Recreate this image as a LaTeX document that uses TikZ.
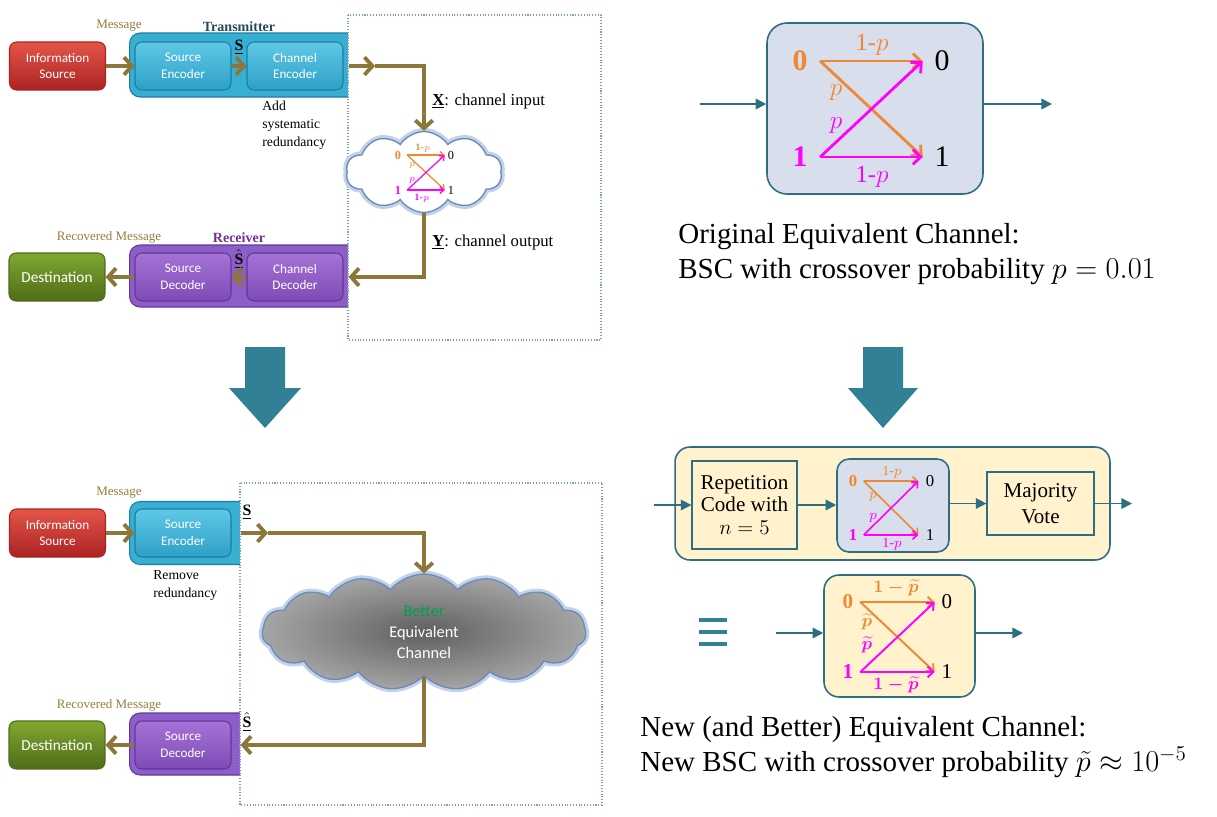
\documentclass[tikz,border=0pt]{standalone}
\usepackage{amsmath}
\usepackage{fontspec}
\setmainfont{Liberation Serif}
\newfontfamily\boxfont{Carlito}
\usetikzlibrary{arrows.meta,shapes.symbols}

\newcommand{\fsz}[2]{\fontsize{#1}{#2}\selectfont}

\definecolor{msgbrown}{RGB}{140,118,58}
\definecolor{msgtext}{RGB}{150,125,60}
\definecolor{txtext}{RGB}{35,75,95}
\definecolor{rxtext}{RGB}{112,48,160}
\definecolor{redtop}{RGB}{228,85,72}
\definecolor{redbot}{RGB}{172,35,35}
\definecolor{tealtop}{RGB}{95,200,230}
\definecolor{tealbot}{RGB}{45,160,200}
\definecolor{tealedge}{RGB}{30,125,160}
\definecolor{tealouter}{RGB}{55,175,210}
\definecolor{purptop}{RGB}{165,115,215}
\definecolor{purpbot}{RGB}{125,75,180}
\definecolor{purpedge}{RGB}{100,55,150}
\definecolor{purpouter}{RGB}{140,95,200}
\definecolor{greentop}{RGB}{128,168,48}
\definecolor{greenbot}{RGB}{78,108,25}
\definecolor{framecol}{RGB}{120,160,175}
\definecolor{bigarrow}{RGB}{50,128,150}
\definecolor{bscedge}{RGB}{45,110,130}
\definecolor{bscfill}{RGB}{216,222,235}
\definecolor{yelfill}{RGB}{255,242,204}
\definecolor{orng}{RGB}{240,135,50}
\definecolor{magn}{RGB}{255,0,255}
\definecolor{cloudedge}{RGB}{110,140,185}
\definecolor{cloudglow}{RGB}{195,210,235}
\definecolor{betgreen}{RGB}{0,160,80}

\tikzset{
  flow/.style={draw=msgbrown, line width=2.2pt, -{Straight Barb[length=4.5pt,width=10pt]}},
  blk/.style={rounded corners=4pt, text=white, align=center, line width=0.6pt,
    font=\boxfont\fsz{7.5}{9.4}, minimum width=1.92cm, minimum height=0.96cm},
  redblk/.style={blk, top color=redtop, bottom color=redbot, draw=redbot},
  tealblk/.style={blk, top color=tealtop, bottom color=tealbot, draw=tealedge},
  purpblk/.style={blk, top color=purptop, bottom color=purpbot, draw=purpedge},
  greenblk/.style={blk, top color=greentop, bottom color=greenbot, draw=greenbot,
    font=\boxfont\fsz{8.7}{10}},
  txbox/.style={rounded corners=6pt, fill=tealouter, draw=tealedge, line width=0.6pt},
  rxbox/.style={rounded corners=6pt, fill=purpouter, draw=purpedge, line width=0.6pt},
  msg/.style={text=msgtext, font=\fsz{7.4}{9}},
  note/.style={align=left, font=\fsz{7.8}{10.2}, inner sep=0pt},
  flowlbl/.style={font=\fsz{9.5}{11}, inner sep=0pt},
  frame/.style={draw=framecol, densely dotted, line width=0.6pt},
  tealarr/.style={draw=bscedge, line width=0.9pt, -{Triangle[length=6pt,width=6pt]}},
  bscbox/.style={draw=bscedge, line width=0.9pt, fill=bscfill},
  plainbox/.style={draw=bscedge, line width=0.7pt, fill=yelfill},
  orarr/.style={draw=orng, line width=#1, -{Straight Barb[length=0.5pt 2.5,width=0.5pt 5]}},
  mgarr/.style={draw=magn, line width=#1, -{Straight Barb[length=0.5pt 2.5,width=0.5pt 5]}},
  bin/.style={inner xsep=#1, inner ysep=0.5pt},
  chcloud/.style={cloud, cloud puffs=10, cloud puff arc=115, cloud ignores aspect, fill=white,
    draw=cloudedge, line width=0.8pt, preaction={draw=cloudglow, line width=4pt}},
}

\begin{document}
\begin{tikzpicture}[x=0.02cm, y=-0.02cm]
\useasboundingbox (0,0) rectangle (1217,816);

% Transmitter and receiver, upper left
\begin{scope}
  \clip (0,0) rectangle (348,340);
  \node[txbox, minimum width=4.6cm, minimum height=1.28cm, anchor=west] (txouter) at (129,65) {};
  \node[rxbox, minimum width=4.6cm, minimum height=1.24cm, anchor=west] (rxouter) at (129,276) {};
\end{scope}
\node[redblk] (info) at (57.5,66) {Information\\Source};
\node[tealblk] (srcenc) at (183,66) {Source\\Encoder};
\node[tealblk] (chenc) at (295,66) {Channel\\Encoder};
\node[msg] (msglbl) at (119,26) {Message};
\node[text=txtext, font=\fsz{8}{9}\bfseries] (txlbl) at (239,27) {Transmitter};
\node[font=\fsz{9}{10}] (slbl) at (239,47) {\underline{\textbf{S}}};
\node[note, anchor=north west] (addnote) at (262,101) {Add\\systematic\\redundancy};

\node[greenblk] (dest) at (57,277) {Destination};
\node[purpblk] (srcdec) at (183,277) {Source\\Decoder};
\node[purpblk] (chdec) at (295,277) {Channel\\Decoder};
\node[msg] (recmsg) at (109,237) {Recovered Message};
\node[text=rxtext, font=\fsz{8}{9}\bfseries] (rxlbl) at (239,238) {Receiver};
\node[font=\fsz{9}{10}] (shat) at (239,259) {$\underline{\hat{\mathbf{S}}}$};

\draw[frame] (348,15) rectangle (601,340);

% Channel cloud with a small BSC
\node[chcloud, minimum width=3.12cm, minimum height=1.62cm] (chcloud) at (424,172) {};
\node[bin=3.3pt, text=orng, font=\fsz{7}{7}\bfseries] (c0) at (398,155) {0};
\node[bin=3.3pt, text=magn, font=\fsz{7}{7}\bfseries] (c1) at (398,190) {1};
\node[bin=1.6pt, font=\fsz{7}{7}] (d0) at (451,155) {0};
\node[bin=1.6pt, font=\fsz{7}{7}] (d1) at (451,190) {1};
\draw[orarr=0.7pt] (c0.east) -- (d0.west);
\draw[orarr=0.7pt] (c0.east) -- (d1.west);
\draw[mgarr=0.7pt] (c1.east) -- (d1.west);
\draw[mgarr=0.7pt] (c1.east) -- (d0.west);
\node[text=orng, font=\fsz{5.5}{6}\bfseries] at (423,148) {1-$p$};
\node[text=orng, font=\fsz{5.5}{6}\bfseries] at (412,165) {$p$};
\node[text=magn, font=\fsz{5.5}{6}\bfseries] at (412,180) {$p$};
\node[text=magn, font=\fsz{5.5}{6}\bfseries] at (422,198) {1-$p$};

\coordinate (xmid) at (375,66);
\coordinate (xturn) at (424,66);
\coordinate (yturn) at (424,277);
\draw[flow] (info.east) -- (srcenc.west);
\draw[flow] (srcenc.east) -- (chenc.west);
\draw[flow, shorten <=0.1cm] (chenc.east) -- (xmid);
\draw[flow] (xmid) -- (xturn) -- (chcloud.north);
\draw[flow, shorten >=0.1cm] (chcloud.south) -- (yturn) -- (chdec.east);
\draw[flow] (chdec.west) -- (srcdec.east);
\draw[flow] (srcdec.west) -- (dest.east);
\node[flowlbl, anchor=west] (xlbl) at (432,101) {\underline{\textbf{X}}: channel input};
\node[flowlbl, anchor=west] (ylbl) at (432,242) {\underline{\textbf{Y}}: channel output};

% Big arrows
\fill[bigarrow] (245,347) -- (285,347) -- (285,388) -- (301,388) -- (265,428) -- (229,388) -- (245,388) -- cycle;
\fill[bigarrow] (863,347) -- (903,347) -- (903,388) -- (918,388) -- (883,428) -- (848,388) -- (863,388) -- cycle;

% Lower left
\begin{scope}
  \clip (0,440) rectangle (240,816);
  \node[txbox, minimum width=2.5cm, minimum height=1.26cm, anchor=west] (txouter2) at (129,533) {};
  \node[rxbox, minimum width=2.5cm, minimum height=1.24cm, anchor=west] (rxouter2) at (129,744) {};
\end{scope}
\node[redblk] (info2) at (57.5,533) {Information\\Source};
\node[tealblk] (srcenc2) at (183,533) {Source\\Encoder};
\node[msg] (msglbl2) at (119,493) {Message};
\node[note, anchor=north west] (remnote) at (153,570) {Remove\\redundancy};
\node[greenblk] (dest2) at (57,745) {Destination};
\node[purpblk] (srcdec2) at (183,745) {Source\\Decoder};
\node[msg] (recmsg2) at (109,705) {Recovered Message};

\draw[frame] (240,483) rectangle (602,805);

\node[cloud, cloud puffs=15, cloud puff arc=100, cloud ignores aspect, minimum width=6.48cm, minimum height=2.32cm,
  inner color={rgb,255:red,95;green,95;blue,95}, outer color={rgb,255:red,165;green,165;blue,165},
  draw=cloudedge, line width=0.8pt, preaction={draw=cloudglow, line width=4pt},
  text=white, align=center, font=\boxfont\fsz{9.3}{12}] (bcloud) at (424,632)
  {{\color{betgreen}Better}\\Equivalent\\Channel};

\node[font=\fsz{9}{10}] (slbl2) at (247,512) {\underline{\textbf{S}}};
\node[font=\fsz{9}{10}] (shat2) at (247,722) {$\underline{\hat{\mathbf{S}}}$};
\coordinate (smid) at (268,533);
\coordinate (sturn) at (424,533);
\coordinate (rturn) at (424,745);
\draw[flow] (info2.east) -- (srcenc2.west);
\draw[flow, shorten <=0.18cm] (srcenc2.east) -- (smid);
\draw[flow] (smid) -- (sturn) -- (bcloud.north);
\draw[flow, shorten >=0.18cm] (bcloud.south) -- (rturn) -- (srcdec2.east);
\draw[flow] (srcdec2.west) -- (dest2.east);

% Original BSC, upper right
\node[bscbox, rounded corners=0.4cm, minimum width=4.32cm, minimum height=3.42cm] (bsc) at (875,108.5) {};
\coordinate (bscin) at (700,104);
\coordinate (bscout) at (1052,104);
\draw[tealarr] (bscin) -- (bscin -| bsc.west);
\draw[tealarr] (bscout -| bsc.east) -- (bscout);
\node[bin=7pt, text=orng, font=\fsz{17}{17}\bfseries] (x0) at (800,61) {0};
\node[bin=7pt, text=magn, font=\fsz{17}{17}\bfseries] (x1) at (800,157) {1};
\node[bin=6.5pt, font=\fsz{17}{17}] (y0) at (942,61) {0};
\node[bin=6.5pt, font=\fsz{17}{17}] (y1) at (942,157) {1};
\draw[orarr=1.6pt] (x0.east) -- (y0.west);
\draw[orarr=1.6pt] (x0.east) -- (y1.west);
\draw[mgarr=1.6pt] (x1.east) -- (y1.west);
\draw[mgarr=1.6pt] (x1.east) -- (y0.west);
\node[text=orng, font=\fsz{14}{14}] at (872,45) {1-$p$};
\node[text=orng, font=\fsz{14}{14}] at (836,93) {$p$};
\node[text=magn, font=\fsz{14}{14}] at (836,126) {$p$};
\node[text=magn, font=\fsz{14}{14}] at (872,177) {1-$p$};

\node[anchor=west, align=left, inner sep=0pt, font=\fsz{16.5}{20.4}] (origtxt) at (678,254)
  {Original Equivalent Channel:\\BSC with crossover probability $p = 0.01$};

% Repetition code around the BSC
\node[bscbox, fill=yelfill, rounded corners=0.3cm, minimum width=8.7cm, minimum height=2.26cm] (rcbox) at (892.5,503.5) {};
\node[plainbox, minimum width=2.1cm, minimum height=1.76cm, align=center, font=\fsz{12}{13}] (rep) at (744.5,505)
  {Repetition\\Code with\\$n = 5$};
\node[bscbox, rounded corners=0.24cm, minimum width=2.24cm, minimum height=1.86cm] (mini) at (893,505.5) {};
\node[plainbox, minimum width=2.14cm, minimum height=1.26cm, align=center, font=\fsz{12}{15}] (maj) at (1040.5,503.5)
  {Majority\\Vote};
\coordinate (rcin) at (654,505);
\coordinate (rcout) at (1132,503.5);
\draw[tealarr] (rcin) -- (rep.west);
\draw[tealarr] (rep.east) -- (rep.east -| mini.west);
\draw[tealarr] (mini.east |- maj.west) -- (maj.west);
\draw[tealarr] (maj.east) -- (rcout);
\node[bin=3.5pt, text=orng, font=\fsz{9.5}{10}\bfseries] (m0) at (853,481) {0};
\node[bin=3.5pt, text=magn, font=\fsz{9.5}{10}\bfseries] (m1) at (853,535) {1};
\node[bin=4pt, font=\fsz{9.5}{10}] (n0) at (930,481) {0};
\node[bin=4pt, font=\fsz{9.5}{10}] (n1) at (930,535) {1};
\draw[orarr=0.9pt] (m0.east) -- (n0.west);
\draw[orarr=0.9pt] (m0.east) -- (n1.west);
\draw[mgarr=0.9pt] (m1.east) -- (n1.west);
\draw[mgarr=0.9pt] (m1.east) -- (n0.west);
\node[text=orng, font=\fsz{8}{8}] at (892,472) {1-$p$};
\node[text=orng, font=\fsz{8}{8}] at (873,497) {$p$};
\node[text=magn, font=\fsz{8}{8}] at (873,518) {$p$};
\node[text=magn, font=\fsz{8}{8}] at (892,544) {1-$p$};

% Equivalent BSC
\foreach \y in {620,632,644} {
  \draw[draw=bigarrow, line width=2.6pt] (699,\y) -- (727,\y);
}
\node[bscbox, fill=yelfill, rounded corners=0.3cm, minimum width=3.02cm, minimum height=2.44cm] (tbsc) at (899.5,636) {};
\coordinate (tin) at (776,633);
\coordinate (tout) at (1023,633);
\draw[tealarr] (tin) -- (tin -| tbsc.west);
\draw[tealarr] (tout -| tbsc.east) -- (tout);
\node[bin=3.8pt, text=orng, font=\fsz{12}{12}\bfseries] (t0) at (848,602) {0};
\node[bin=3.8pt, text=magn, font=\fsz{12}{12}\bfseries] (t1) at (848,672) {1};
\node[bin=3.8pt, font=\fsz{12}{12}] (u0) at (947,602) {0};
\node[bin=3.8pt, font=\fsz{12}{12}] (u1) at (947,672) {1};
\draw[orarr=1.1pt] (t0.east) -- (u0.west);
\draw[orarr=1.1pt] (t0.east) -- (u1.west);
\draw[mgarr=1.1pt] (t1.east) -- (u1.west);
\draw[mgarr=1.1pt] (t1.east) -- (u0.west);
\node[text=orng, font=\fsz{10}{10}\boldmath, inner sep=1pt] at (896,588) {$1-\widetilde{p}$};
\node[text=orng, font=\fsz{10}{10}\boldmath] at (867,622) {$\widetilde{p}$};
\node[text=magn, font=\fsz{10}{10}\boldmath] at (867,645) {$\widetilde{p}$};
\node[text=magn, font=\fsz{10}{10}\boldmath, inner sep=1pt] at (896,685) {$1-\widetilde{p}$};

\node[anchor=west, align=left, inner sep=0pt, font=\fsz{16.5}{20}] (newtxt) at (640,747)
  {New (and Better) Equivalent Channel:\\New BSC with crossover probability $\tilde{p} \approx 10^{-5}$};
\end{tikzpicture}
\end{document}
